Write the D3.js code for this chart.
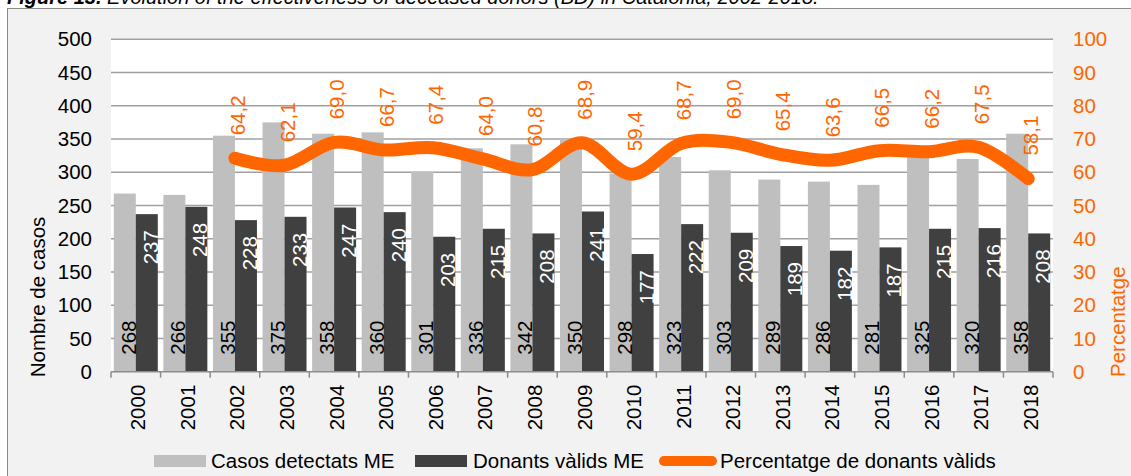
<!DOCTYPE html>
<html>
<head>
<meta charset="utf-8">
<script src="https://cdn.jsdelivr.net/npm/d3@7"></script>
<style>
  body { margin: 0; background: #fff; }
  text { font-family: "Liberation Sans", Arial, sans-serif; }
</style>
</head>
<body>
<div id="chart"></div>
<script>
// Data
var years = ["2000", "2001", "2002", "2003", "2004", "2005", "2006", "2007", "2008", "2009",
             "2010", "2011", "2012", "2013", "2014", "2015", "2016", "2017", "2018"];
var casos = [268, 266, 355, 375, 358, 360, 301, 336, 342, 350, 298, 323, 303, 289, 286, 281, 325, 320, 358];
var donants = [237, 248, 228, 233, 247, 240, 203, 215, 208, 241, 177, 222, 209, 189, 182, 187, 215, 216, 208];
var percent = [null, null, 64.2, 62.1, 69.0, 66.7, 67.4, 64.0, 60.8, 68.9, 59.4, 68.7, 69.0, 65.4, 63.6, 66.5, 66.2, 67.5, 58.1];
var leftTicks = [0, 50, 100, 150, 200, 250, 300, 350, 400, 450, 500];
var rightTicks = [0, 10, 20, 30, 40, 50, 60, 70, 80, 90, 100];
var seriesNames = ["Casos detectats ME", "Donants vàlids ME", "Percentatge de donants vàlids"];

var svgWidth = 1131;
var svgHeight = 476;
var fontSize = 20.5;
var orange = "#ff6600";

// Plot area
var plot = { left: 111, right: 1053, top: 39.3, bottom: 371.7 };

var svg = d3.select("#chart")
    .append("svg")
    .attr("width", svgWidth)
    .attr("height", svgHeight);

// Title (clipped at top like the source)
var title = svg.append("text")
    .attr("x", 7)
    .attr("y", 4)
    .attr("font-size", 20)
    .style("font-style", "italic")
    .attr("fill", "#000");
title.append("tspan").attr("font-weight", "bold").text("Figure 13.");
title.append("tspan").text(" Evolution of the effectiveness of deceased donors (BD) in Catalonia, 2002-2018.");

// Chart frame
svg.append("rect")
    .attr("x", 7.5)
    .attr("y", 8.5)
    .attr("width", 1300)
    .attr("height", 600)
    .attr("fill", "#f2f2f2")
    .attr("stroke", "#8a8a8a")
    .attr("stroke-width", 1);

svg.append("rect")
    .attr("x", plot.left)
    .attr("y", plot.top)
    .attr("width", plot.right - plot.left)
    .attr("height", plot.bottom - plot.top)
    .attr("fill", "#fff");

// Scales
var x0 = d3.scaleBand()
    .domain(years)
    .range([plot.left, plot.right])
    .padding(0);

var x1 = d3.scaleBand()
    .domain(["casos", "donants"])
    .range([0, x0.bandwidth()])
    .paddingInner(0)
    .paddingOuter(0.127);

var y = d3.scaleLinear()
    .domain([0, 500])
    .range([plot.bottom, plot.top]);

var yPct = d3.scaleLinear()
    .domain([0, 100])
    .range([plot.bottom, plot.top]);

// Gridlines
svg.append("g")
    .selectAll("line")
    .data(leftTicks.filter(d => d > 0))
    .enter()
    .append("line")
    .attr("x1", plot.left)
    .attr("x2", plot.right)
    .attr("y1", d => y(d))
    .attr("y2", d => y(d))
    .attr("stroke", "#a0a0a0")
    .attr("stroke-width", 1.5);

// Left axis
var leftAxis = svg.append("g")
    .attr("transform", `translate(${plot.left}, 0)`)
    .call(d3.axisLeft(y).tickValues(leftTicks).tickSize(0).tickPadding(19));
leftAxis.select(".domain").remove();
leftAxis.selectAll("text")
    .attr("font-size", fontSize)
    .attr("font-family", "Liberation Sans, Arial, sans-serif")
    .attr("fill", "#000");

// Right axis
var rightAxis = svg.append("g")
    .attr("transform", `translate(${plot.right}, 0)`)
    .call(d3.axisRight(yPct).tickValues(rightTicks).tickSize(0).tickPadding(20));
rightAxis.select(".domain").remove();
rightAxis.selectAll("text")
    .attr("font-size", fontSize)
    .attr("font-family", "Liberation Sans, Arial, sans-serif")
    .attr("fill", orange);

// Bars
var groups = svg.append("g")
    .selectAll("g")
    .data(years)
    .enter()
    .append("g")
    .attr("transform", d => `translate(${x0(d)}, 0)`);

groups.append("rect")
    .attr("x", x1("casos"))
    .attr("y", (d, i) => y(casos[i]))
    .attr("width", x1.bandwidth())
    .attr("height", (d, i) => y(0) - y(casos[i]))
    .attr("fill", "#bfbfbf");

groups.append("rect")
    .attr("x", x1("donants"))
    .attr("y", (d, i) => y(donants[i]))
    .attr("width", x1.bandwidth())
    .attr("height", (d, i) => y(0) - y(donants[i]))
    .attr("fill", "#404040");

// Bar labels
groups.append("text")
    .attr("transform", d => `translate(${x1("casos") + x1.bandwidth()}, ${plot.bottom - 17}) rotate(-90)`)
    .attr("text-anchor", "start")
    .attr("font-size", fontSize)
    .attr("fill", "#000")
    .text((d, i) => casos[i]);

groups.append("text")
    .attr("transform", (d, i) => `translate(${x1("donants") + x1.bandwidth()}, ${y(donants[i]) + 16}) rotate(-90)`)
    .attr("text-anchor", "end")
    .attr("font-size", fontSize)
    .attr("fill", "#fff")
    .text((d, i) => donants[i]);

// X axis
svg.append("line")
    .attr("x1", plot.left)
    .attr("x2", plot.right)
    .attr("y1", plot.bottom)
    .attr("y2", plot.bottom)
    .attr("stroke", "#8c8c8c")
    .attr("stroke-width", 1.5);

var boundaries = years.map(d => x0(d)).concat([plot.right]);
svg.append("g")
    .selectAll("line")
    .data(boundaries)
    .enter()
    .append("line")
    .attr("x1", d => d)
    .attr("x2", d => d)
    .attr("y1", plot.bottom)
    .attr("y2", plot.bottom + 6)
    .attr("stroke", "#8c8c8c")
    .attr("stroke-width", 1.5);

svg.append("g")
    .selectAll("text")
    .data(years)
    .enter()
    .append("text")
    .attr("transform", d => `translate(${x0(d) + x0.bandwidth() / 2 + 9.5}, ${plot.bottom + 13}) rotate(-90)`)
    .attr("text-anchor", "end")
    .attr("font-size", fontSize)
    .attr("fill", "#000")
    .text(d => d);

// Percentage line
var line = d3.line()
    .defined(d => d.v != null)
    .x(d => x0(d.year) + x0.bandwidth() / 2)
    .y(d => yPct(d.v))
    .curve(d3.curveCardinal.tension(0));

var pctData = years.map((d, i) => ({ year: d, v: percent[i] }));

svg.append("path")
    .datum(pctData)
    .attr("d", line)
    .attr("fill", "none")
    .attr("stroke", orange)
    .attr("stroke-width", 13)
    .attr("stroke-linecap", "round")
    .attr("stroke-linejoin", "round");

svg.append("g")
    .selectAll("text")
    .data(pctData.filter(d => d.v != null))
    .enter()
    .append("text")
    .attr("transform", d => `translate(${x0(d.year) + x0.bandwidth() / 2 + 10}, ${yPct(d.v) - 23}) rotate(-90)`)
    .attr("text-anchor", "start")
    .attr("font-size", fontSize)
    .attr("fill", orange)
    .text(d => d.v.toFixed(1).replace(".", ","));

// Axis titles
svg.append("text")
    .attr("transform", "translate(45, 297) rotate(-90)")
    .attr("text-anchor", "middle")
    .attr("font-size", fontSize)
    .attr("fill", "#000")
    .text("Nombre de casos");

svg.append("text")
    .attr("transform", "translate(1125, 377) rotate(-90)")
    .attr("text-anchor", "start")
    .attr("font-size", fontSize)
    .attr("fill", orange)
    .text("Percentatge");

// Legend
var legend = svg.append("g");
legend.append("rect")
    .attr("x", 154).attr("y", 455).attr("width", 52).attr("height", 12)
    .attr("fill", "#bfbfbf");
legend.append("text")
    .attr("x", 211).attr("y", 468)
    .attr("font-size", fontSize)
    .text(seriesNames[0]);

legend.append("rect")
    .attr("x", 415).attr("y", 455).attr("width", 52).attr("height", 12)
    .attr("fill", "#404040");
legend.append("text")
    .attr("x", 473).attr("y", 468)
    .attr("font-size", fontSize)
    .text(seriesNames[1]);

legend.append("line")
    .attr("x1", 664).attr("x2", 712).attr("y1", 461).attr("y2", 461)
    .attr("stroke", orange)
    .attr("stroke-width", 10)
    .attr("stroke-linecap", "round");
legend.append("text")
    .attr("x", 720).attr("y", 468)
    .attr("font-size", fontSize)
    .text(seriesNames[2]);
</script>
</body>
</html>
